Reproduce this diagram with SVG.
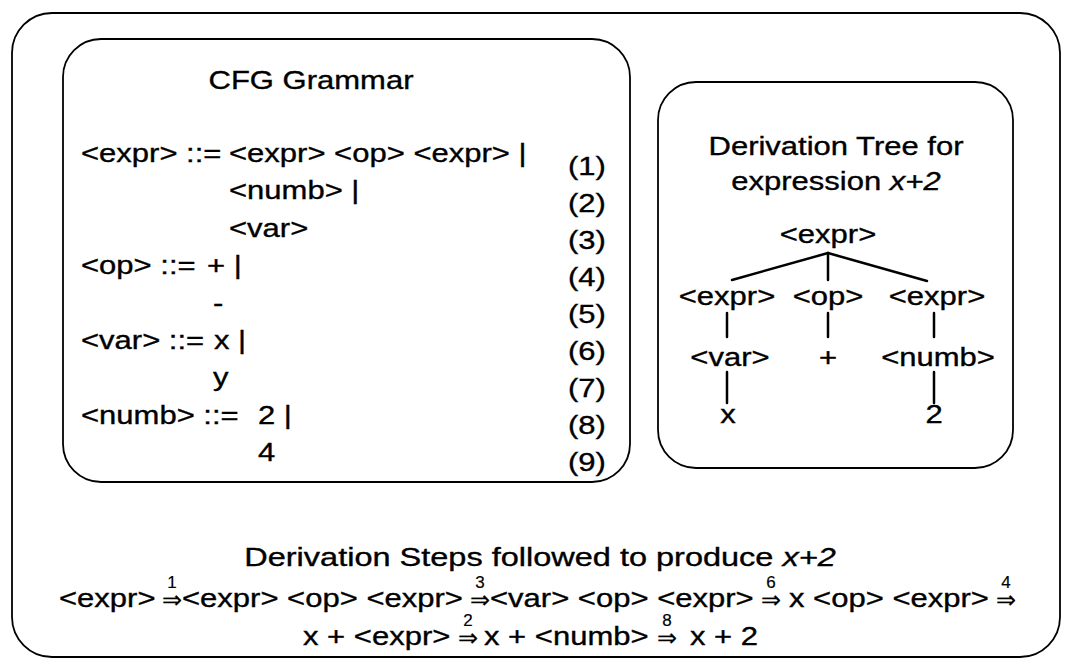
<svg xmlns="http://www.w3.org/2000/svg" width="1069" height="666" viewBox="0 0 1069 666">
<style>
text{font-family:"Liberation Sans",Arial,sans-serif;font-size:25px;fill:#000;stroke:#000;stroke-width:0.35}
.box{fill:none;stroke:#000;stroke-width:1.8}
.edge{stroke:#000;stroke-width:2.5;fill:none;stroke-linecap:round}
.m{text-anchor:middle}
.it{font-style:italic}
.ar{font-family:"DejaVu Sans",sans-serif;font-size:24px;text-anchor:middle;stroke-width:0.2}
.num{font-size:17px;text-anchor:middle;stroke-width:0.2}
</style>
<rect width="1069" height="666" fill="#fff"/>
<g id="outer"><rect class="box" x="12" y="13" width="1048" height="644" rx="40"/></g>
<g id="grammar">
<rect class="box" x="63" y="39" width="567" height="443" rx="38"/>
<text class="m" transform="translate(311 89) scale(1.24 1)">CFG Grammar</text>
<text transform="translate(81 162) scale(1.24 1)">&lt;expr&gt; ::=</text>
<text transform="translate(229 162) scale(1.24 1)">&lt;expr&gt; &lt;op&gt; &lt;expr&gt; |</text>
<text transform="translate(229 199) scale(1.24 1)">&lt;numb&gt; |</text>
<text transform="translate(229 237) scale(1.24 1)">&lt;var&gt;</text>
<text transform="translate(81 274) scale(1.24 1)">&lt;op&gt; ::=</text>
<text transform="translate(207 274) scale(1.24 1)">+ |</text>
<text transform="translate(213 312) scale(1.24 1)">-</text>
<text transform="translate(81 349) scale(1.24 1)">&lt;var&gt; ::=</text>
<text transform="translate(214 349) scale(1.24 1)">x |</text>
<text transform="translate(213 386) scale(1.24 1)">y</text>
<text transform="translate(81 424) scale(1.24 1)">&lt;numb&gt; ::=</text>
<text transform="translate(258 424) scale(1.24 1)">2 |</text>
<text transform="translate(258 461) scale(1.24 1)">4</text>
<text transform="translate(568 175) scale(1.24 1)">(1)</text>
<text transform="translate(568 212) scale(1.24 1)">(2)</text>
<text transform="translate(568 249) scale(1.24 1)">(3)</text>
<text transform="translate(568 286) scale(1.24 1)">(4)</text>
<text transform="translate(568 323) scale(1.24 1)">(5)</text>
<text transform="translate(568 360) scale(1.24 1)">(6)</text>
<text transform="translate(568 397) scale(1.24 1)">(7)</text>
<text transform="translate(568 434) scale(1.24 1)">(8)</text>
<text transform="translate(568 471) scale(1.24 1)">(9)</text>
</g>
<g id="tree-panel">
<rect class="box" x="658" y="82" width="355" height="386" rx="38"/>
<text class="m" transform="translate(836 155) scale(1.24 1)">Derivation Tree for</text>
<text class="m" transform="translate(836 190) scale(1.24 1)">expression <tspan class="it">x+2</tspan></text>
</g>
<g id="connectors">
<line class="edge" x1="828" y1="253" x2="732" y2="280"/>
<line class="edge" x1="828" y1="253" x2="828" y2="280"/>
<line class="edge" x1="828" y1="253" x2="927" y2="281"/>
<line class="edge" x1="727" y1="313" x2="727" y2="337"/>
<line class="edge" x1="828" y1="313" x2="828" y2="337"/>
<line class="edge" x1="934" y1="313" x2="934" y2="337"/>
<line class="edge" x1="727" y1="372" x2="727" y2="403"/>
<line class="edge" x1="934" y1="372" x2="934" y2="403"/>
</g>
<g id="n-root"><text class="m" transform="translate(828 243) scale(1.24 1)">&lt;expr&gt;</text></g>
<g id="n-expr-l"><text class="m" transform="translate(727 305) scale(1.24 1)">&lt;expr&gt;</text></g>
<g id="n-op"><text class="m" transform="translate(828 305) scale(1.24 1)">&lt;op&gt;</text></g>
<g id="n-expr-r"><text class="m" transform="translate(937 305) scale(1.24 1)">&lt;expr&gt;</text></g>
<g id="n-var"><text class="m" transform="translate(730 366) scale(1.24 1)">&lt;var&gt;</text></g>
<g id="n-plus"><text class="m" transform="translate(828 366) scale(1.24 1)">+</text></g>
<g id="n-numb"><text class="m" transform="translate(938 366) scale(1.24 1)">&lt;numb&gt;</text></g>
<g id="n-x"><text class="m" transform="translate(728 423) scale(1.24 1)">x</text></g>
<g id="n-2"><text class="m" transform="translate(934 423) scale(1.24 1)">2</text></g>
<g id="steps">
<text class="m" transform="translate(540 566) scale(1.3 1)">Derivation Steps followed to produce <tspan class="it">x+2</tspan></text>
<text transform="translate(59 607) scale(1.24 1)">&lt;expr&gt;</text>
<text class="num" x="172" y="588">1</text><text class="ar" x="172" y="608">⇒</text>
<text transform="translate(182 607) scale(1.24 1)">&lt;expr&gt; &lt;op&gt; &lt;expr&gt;</text>
<text class="num" x="480" y="588">3</text><text class="ar" x="480" y="608">⇒</text>
<text transform="translate(490 607) scale(1.24 1)">&lt;var&gt; &lt;op&gt; &lt;expr&gt;</text>
<text class="num" x="771" y="588">6</text><text class="ar" x="771" y="608">⇒</text>
<text transform="translate(789 607) scale(1.24 1)">x &lt;op&gt; &lt;expr&gt;</text>
<text class="num" x="1006" y="588">4</text><text class="ar" x="1006" y="608">⇒</text>
<text transform="translate(303 645) scale(1.24 1)">x + &lt;expr&gt;</text>
<text class="num" x="468" y="626">2</text><text class="ar" x="468" y="646">⇒</text>
<text transform="translate(484 645) scale(1.24 1)">x + &lt;numb&gt;</text>
<text class="num" x="667" y="626">8</text><text class="ar" x="667" y="646">⇒</text>
<text transform="translate(690 645) scale(1.24 1)">x + 2</text>
</g>
</svg>
